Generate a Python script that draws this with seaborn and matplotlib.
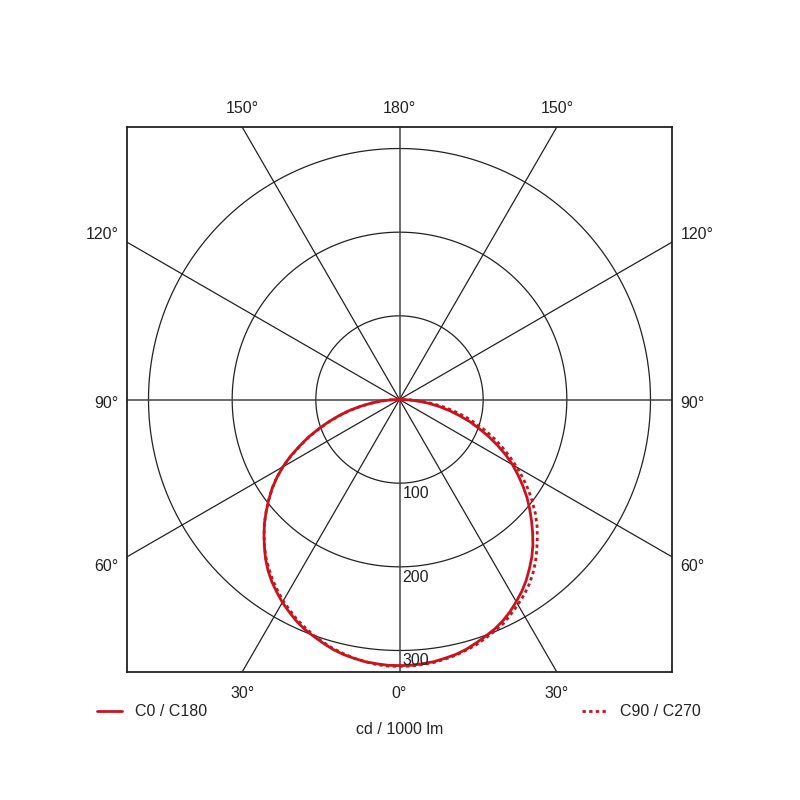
import numpy as np
import pandas as pd
import matplotlib
matplotlib.use("Agg")
import matplotlib.pyplot as plt
from matplotlib.lines import Line2D
import seaborn as sns

# === Data (cd / 1000 lm), gamma from nadir, 0..90 deg in 2.5 deg steps
GAMMA = [0, 2.5, 5, 7.5, 10, 12.5, 15, 17.5, 20, 22.5, 25, 27.5, 30, 32.5, 35, 37.5,
         40, 42.5, 45, 47.5, 50, 52.5, 55, 57.5, 60, 62.5, 65, 67.5, 70, 72.5, 75,
         77.5, 80, 82.5, 85, 87.5, 90]
C0 = [318, 318, 317, 316, 314, 312, 309, 305, 301, 297, 292, 286, 279, 272, 264, 255,
      246, 236, 225, 214, 203, 192, 180, 168, 156, 143, 129, 115, 101, 88, 74,
      61, 48, 36, 23, 12, 0]
C180 = [318, 318, 317, 316, 314, 312, 309, 305, 301, 297, 292, 286, 280, 273, 266, 258,
        249, 239, 229, 219, 208, 197, 186, 174, 161, 147, 132, 118, 103, 89, 75,
        62, 48, 35, 23, 11, 0]
C90 = [319, 319, 318, 317, 315, 313, 310, 307, 303, 299, 295, 289, 283, 277, 270, 262,
       253, 243, 233, 223, 212, 200, 188, 175, 162, 149, 136, 123, 110, 96, 83,
       69, 56, 42, 28, 14, 0]
C270 = [319, 319, 318, 316, 314, 311, 308, 304, 300, 295, 290, 284, 278, 271, 264, 256,
        248, 239, 229, 219, 208, 197, 186, 174, 161, 146, 131, 117, 102, 88, 74,
        61, 47, 34, 22, 11, 0]

RINGS = [100, 200, 300]
RAY_ANGLES = [0, 30, 60, 90, 120, 150, 180]
SERIES = ["C0 / C180", "C90 / C270"]

RED = "#c8141e"
LIM = 325.7
FS = 11.5
SIDE_OFF_Y = {60: -7.2, 90: -3.0, 120: 5.8}


def curve(left, right, name):
    g = np.radians(GAMMA)
    l = np.array(left, dtype=float)
    r = np.array(right, dtype=float)
    x = np.concatenate([-(l * np.sin(g))[::-1], (r * np.sin(g))[1:]])
    y = np.concatenate([-(l * np.cos(g))[::-1], -(r * np.cos(g))[1:]])
    return pd.DataFrame({"x": x, "y": y, "plane": name})


df = pd.concat([curve(C180, C0, SERIES[0]), curve(C270, C90, SERIES[1])], ignore_index=True)

sns.set_style("white")
plt.rcParams["font.family"] = ["Liberation Sans", "DejaVu Sans"]

fig = plt.figure(figsize=(8, 8), dpi=100)
ax = fig.add_axes([127 / 800, 128 / 800, 545 / 800, 545 / 800])
ax.set_xlim(-LIM, LIM)
ax.set_ylim(-LIM, LIM)
ax.set_aspect("equal")
for s in ax.spines.values():
    s.set_linewidth(1.3)
    s.set_color("#222222")

# === grid circles
t = np.linspace(0, 2 * np.pi, 400)
for r in RINGS:
    ax.plot(r * np.cos(t), r * np.sin(t), color="#222222", lw=0.9, zorder=1)
    ax.annotate(str(r), (0, -r), xytext=(2, -2), textcoords="offset points",
                ha="left", va="top", fontsize=FS, color="#222222", zorder=3)

# === rays + angle labels
far = 1000
for a in RAY_ANGLES:
    for side in (-1, 1):
        if side == -1 and a in (0, 180):
            continue
        rad = np.radians(a)
        dx, dy = side * np.sin(rad), -np.cos(rad)
        main = a in (0, 90, 180)
        ax.plot([0, far * dx], [0, far * dy], color="#444444" if main else "#222222",
                lw=1.1 if main else 0.9, zorder=1)
        # end point on the frame
        tx = LIM / abs(dx) if abs(dx) > 1e-9 else np.inf
        ty = LIM / abs(dy) if abs(dy) > 1e-9 else np.inf
        tt = min(tx, ty)
        ex, ey = tt * dx, tt * dy
        if ty <= tx:
            off = (0, 13 if dy > 0 else -15.5)
            ha, va = "center", "center"
        else:
            off = (6 * side, SIDE_OFF_Y[a])
            ha, va = ("left" if side > 0 else "right"), "center"
        ax.annotate(f"{a}°", (ex, ey), xytext=off, textcoords="offset points",
                    ha=ha, va=va, fontsize=FS, color="#222222", annotation_clip=False)

# === light distribution curves
sns.lineplot(data=df, x="x", y="y", hue="plane", style="plane",
             estimator=None, sort=False, palette=[RED, RED],
             dashes={SERIES[0]: (1, 0), SERIES[1]: (1.2, 1.2)}, lw=2, legend=False,
             ax=ax, zorder=2)
ax.set_xlabel("")
ax.set_ylabel("")
ax.set_xticks([])
ax.set_yticks([])

# === legend + unit
yl = 1 - 711 / 800
fig.add_artist(Line2D([97 / 800, 122 / 800], [yl, yl], color=RED, lw=2))
fig.text(135 / 800, yl, SERIES[0], ha="left", va="center", fontsize=FS, color="#222222")
fig.add_artist(Line2D([582 / 800, 608 / 800], [yl, yl], color=RED, lw=2, ls=(0, (1.2, 1.2))))
fig.text(620 / 800, yl, SERIES[1], ha="left", va="center", fontsize=FS, color="#222222")
fig.text(0.5, 1 - 730 / 800, "cd / 1000 lm", ha="center", va="center", fontsize=FS, color="#222222")

plt.savefig("out.png", dpi=100)
plt.close()
